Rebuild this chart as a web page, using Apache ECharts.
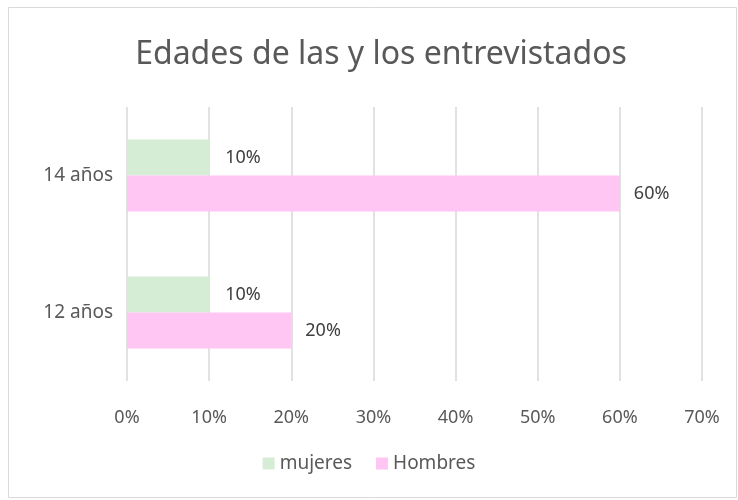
<html>
<head>
<meta charset="utf-8" />
<title>Edades</title>
<script src="https://cdn.jsdelivr.net/npm/echarts@6/dist/echarts.min.js"></script>
<style type="text/css">
html, body { margin: 0; padding: 0; background: #fff; }
#echarts { width: 738px; height: 500px; }
</style>
</head>
<body>
<div id="echarts"></div>
<script type="text/javascript">
var categories = ['12 años', '14 años'];
var mujeres = [10, 10];
var hombres = [20, 60];
var xTicks = [0, 10, 20, 30, 40, 50, 60, 70];

var myChart = echarts.init(document.getElementById('echarts'));
var font = 'Noto Sans';

var option = {
    backgroundColor: '#fff',
    textStyle: { fontFamily: font },
    graphic: [{
        type: 'rect',
        shape: { x: 8.5, y: 7.5, width: 728, height: 490 },
        style: { fill: 'none', stroke: '#d9d9d9', lineWidth: 1 },
        silent: true
    }],
    title: {
        text: 'Edades de las y los entrevistados',
        left: 376,
        top: 34,
        textAlign: 'center',
        textStyle: { fontFamily: font, fontSize: 32, fontWeight: 'normal', color: '#595959' }
    },
    legend: {
        data: ['mujeres', 'Hombres'],
        bottom: 22,
        left: 'center',
        itemWidth: 12,
        itemHeight: 12,
        itemGap: 24,
        itemStyle: { borderWidth: 0 },
        icon: 'rect',
        textStyle: { fontFamily: font, fontSize: 19, color: '#595959' }
    },
    grid: { left: 127, right: 36, top: 107, bottom: 119, containLabel: false },
    xAxis: {
        type: 'value',
        min: xTicks[0],
        max: xTicks[xTicks.length - 1],
        interval: 10,
        axisLine: { show: false },
        axisTick: { show: false },
        splitLine: { lineStyle: { color: '#d9d9d9', width: 1.5 } },
        axisLabel: {
            margin: 28,
            fontFamily: font, fontSize: 18, color: '#595959',
            formatter: function (v) { return v + '%'; }
        }
    },
    yAxis: {
        type: 'category',
        data: categories,
        axisLine: { show: false },
        axisTick: { show: false },
        axisLabel: { margin: 14, fontFamily: font, fontSize: 19, color: '#595959' }
    },
    series: [{
        name: 'mujeres',
        type: 'bar',
        data: mujeres,
        barWidth: 36,
        barGap: '0%',
        itemStyle: { color: '#d5ecd5' },
        label: {
            show: true, position: 'right', distance: 16,
            fontFamily: font, fontSize: 18, color: '#404040',
            formatter: '{c}%'
        }
    }, {
        name: 'Hombres',
        type: 'bar',
        data: hombres,
        barWidth: 36,
        barGap: '0%',
        itemStyle: { color: '#ffc5f3' },
        label: {
            show: true, position: 'right', distance: 14,
            fontFamily: font, fontSize: 18, color: '#404040',
            formatter: '{c}%'
        }
    }]
};

myChart.setOption(option);
</script>
</body>
</html>
